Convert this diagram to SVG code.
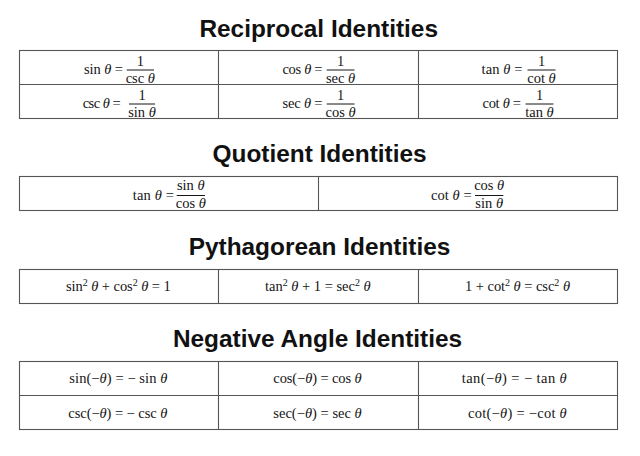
<svg xmlns="http://www.w3.org/2000/svg" width="640" height="456" viewBox="0 0 640 456">
<style>
.title{font-family:"Liberation Sans",Arial,sans-serif;font-weight:bold;font-size:24.4px;fill:#111;text-anchor:middle}
.m{font-family:"Liberation Serif","Times New Roman",serif;font-size:14.5px;fill:#151515}
.c{text-anchor:middle}
.i{font-style:italic}
.s{font-size:10px}
.grid{fill:none;stroke:#555;stroke-width:1.1}
.bar{stroke:#151515;stroke-width:1}
</style>
<rect width="640" height="456" fill="#fff"/>

<g id="reciprocal">
<text class="title" x="318.7" y="36.7">Reciprocal Identities</text>
<rect class="grid" x="19.5" y="50.5" width="598" height="68"/>
<path class="grid" d="M19.5 84.5H617.5M218.5 50.5V118.5M418.5 50.5V118.5"/>
<g id="r11">
<text class="m" x="84" y="74" textLength="39">sin <tspan class="i">θ</tspan> =</text>
<line class="bar" x1="126.7" y1="70" x2="154" y2="70"/>
<text class="m c" x="140.3" y="66">1</text>
<text class="m c" x="140.3" y="82.5">csc <tspan class="i">θ</tspan></text>
</g>
<g id="r12">
<text class="m" x="282.5" y="74" textLength="40">cos <tspan class="i">θ</tspan> =</text>
<line class="bar" x1="326.7" y1="70" x2="354.5" y2="70"/>
<text class="m c" x="340.6" y="66">1</text>
<text class="m c" x="340.6" y="82.5">sec <tspan class="i">θ</tspan></text>
</g>
<g id="r13">
<text class="m" x="481.5" y="74" textLength="41">tan <tspan class="i">θ</tspan> =</text>
<line class="bar" x1="527.5" y1="70" x2="555.5" y2="70"/>
<text class="m c" x="541.5" y="66">1</text>
<text class="m c" x="541.5" y="82.5">cot <tspan class="i">θ</tspan></text>
</g>
<g id="r21">
<text class="m" x="82.7" y="107.7" textLength="38">csc <tspan class="i">θ</tspan> =</text>
<line class="bar" x1="129" y1="104" x2="155" y2="104"/>
<text class="m c" x="142" y="100">1</text>
<text class="m c" x="142" y="116.5">sin <tspan class="i">θ</tspan></text>
</g>
<g id="r22">
<text class="m" x="282.5" y="107.7" textLength="40">sec <tspan class="i">θ</tspan> =</text>
<line class="bar" x1="326.7" y1="104" x2="354.5" y2="104"/>
<text class="m c" x="340.6" y="100">1</text>
<text class="m c" x="340.6" y="116.5">cos <tspan class="i">θ</tspan></text>
</g>
<g id="r23">
<text class="m" x="482.5" y="107.7" textLength="38.5">cot <tspan class="i">θ</tspan> =</text>
<line class="bar" x1="525.5" y1="104" x2="553.5" y2="104"/>
<text class="m c" x="539.5" y="100">1</text>
<text class="m c" x="539.5" y="116.5">tan <tspan class="i">θ</tspan></text>
</g>
</g>

<g id="quotient">
<text class="title" x="319.6" y="162">Quotient Identities</text>
<rect class="grid" x="19.5" y="176.5" width="598" height="34"/>
<path class="grid" d="M318.5 176.5V210.5"/>
<g id="q1">
<text class="m" x="132.7" y="199.5" textLength="41.3">tan <tspan class="i">θ</tspan> =</text>
<line class="bar" x1="176.7" y1="195.5" x2="205" y2="195.5"/>
<text class="m c" x="190.8" y="190">sin <tspan class="i">θ</tspan></text>
<text class="m c" x="190.8" y="208.3">cos <tspan class="i">θ</tspan></text>
</g>
<g id="q2">
<text class="m" x="431" y="199.5" textLength="40.7">cot <tspan class="i">θ</tspan> =</text>
<line class="bar" x1="475" y1="195.5" x2="503.3" y2="195.5"/>
<text class="m c" x="489.2" y="190">cos <tspan class="i">θ</tspan></text>
<text class="m c" x="489.2" y="208.3">sin <tspan class="i">θ</tspan></text>
</g>
</g>

<g id="pythagorean">
<text class="title" x="319.5" y="254.5">Pythagorean Identities</text>
<rect class="grid" x="19.5" y="269.5" width="598" height="34"/>
<path class="grid" d="M218.5 269.5V303.5M418.5 269.5V303.5"/>
<text id="p1" class="m" x="66" y="291" textLength="104.7">sin<tspan class="s" dy="-5">2</tspan><tspan dy="5"> </tspan><tspan class="i">θ</tspan> + cos<tspan class="s" dy="-5">2</tspan><tspan dy="5"> </tspan><tspan class="i">θ</tspan> = 1</text>
<text id="p2" class="m" x="265" y="291" textLength="105.7">tan<tspan class="s" dy="-5">2</tspan><tspan dy="5"> </tspan><tspan class="i">θ</tspan> + 1 = sec<tspan class="s" dy="-5">2</tspan><tspan dy="5"> </tspan><tspan class="i">θ</tspan></text>
<text id="p3" class="m" x="465" y="291" textLength="105">1 + cot<tspan class="s" dy="-5">2</tspan><tspan dy="5"> </tspan><tspan class="i">θ</tspan> = csc<tspan class="s" dy="-5">2</tspan><tspan dy="5"> </tspan><tspan class="i">θ</tspan></text>
</g>

<g id="negative">
<text class="title" x="317.5" y="346.7">Negative Angle Identities</text>
<rect class="grid" x="19.5" y="361.5" width="598" height="68"/>
<path class="grid" d="M19.5 395.5H617.5M218.5 361.5V429.5M418.5 361.5V429.5"/>
<text id="n11" class="m" x="69.3" y="383.3" textLength="98">sin(−<tspan class="i">θ</tspan>) = − sin <tspan class="i">θ</tspan></text>
<text id="n12" class="m" x="273.3" y="383.3" textLength="88.4">cos(−<tspan class="i">θ</tspan>) = cos <tspan class="i">θ</tspan></text>
<text id="n13" class="m" x="461.7" y="383.3" textLength="105">tan(−<tspan class="i">θ</tspan>) = − tan <tspan class="i">θ</tspan></text>
<text id="n21" class="m" x="68.3" y="418" textLength="99">csc(−<tspan class="i">θ</tspan>) = − csc <tspan class="i">θ</tspan></text>
<text id="n22" class="m" x="273.3" y="418" textLength="88.4">sec(−<tspan class="i">θ</tspan>) = sec <tspan class="i">θ</tspan></text>
<text id="n23" class="m" x="468" y="418" textLength="98.7">cot(−<tspan class="i">θ</tspan>) = −cot <tspan class="i">θ</tspan></text>
</g>
</svg>
